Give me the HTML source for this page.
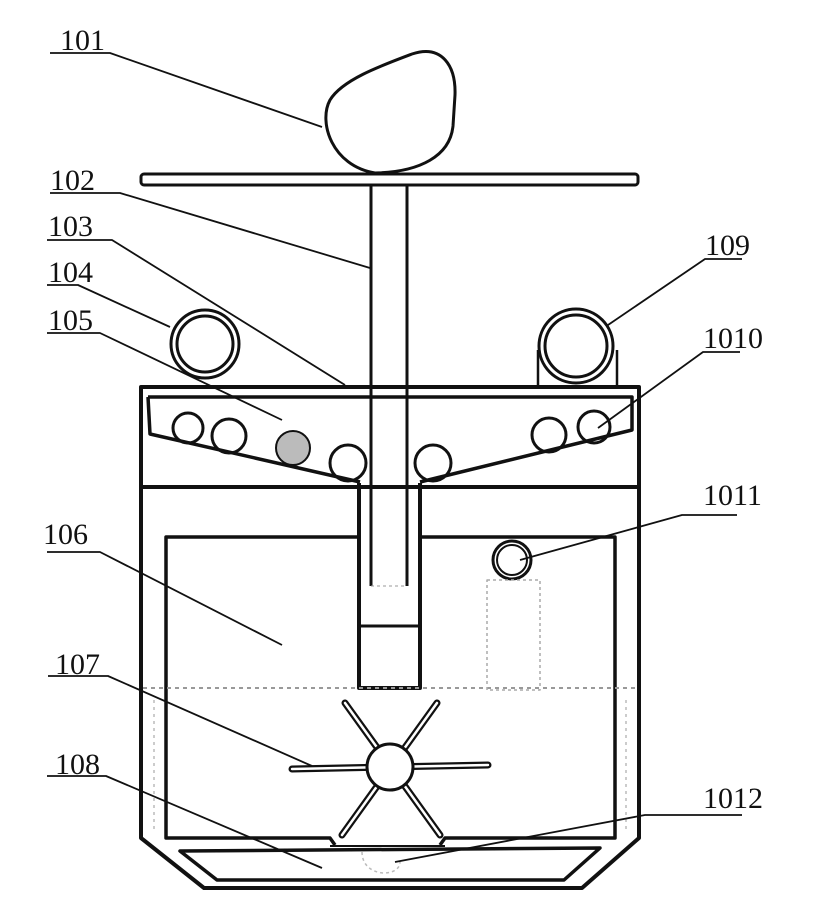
<!DOCTYPE html>
<html><head><meta charset="utf-8"><style>
html,body{margin:0;padding:0;background:#fff;}
svg{display:block;}
text{font-family:"Liberation Serif",serif;font-size:30px;fill:#111;}
</style></head><body>
<svg width="813" height="912" viewBox="0 0 813 912" xmlns="http://www.w3.org/2000/svg">
<g fill="none" stroke="#111" stroke-linejoin="round">
<path d="M375,173 C332,166 318,122 330,100 C342,80 380,66 412,54 C442,44 456,66 455,95 L453,126 C450,156 420,172 375,173 Z" stroke-width="3"/>
<rect x="141" y="174" width="497" height="11" rx="3" stroke-width="3"/>
<line x1="371" y1="185" x2="371" y2="586" stroke-width="3"/>
<line x1="407" y1="185" x2="407" y2="586" stroke-width="3"/>
<circle cx="205" cy="344" r="34" stroke-width="3"/>
<circle cx="205" cy="344" r="28" stroke-width="3"/>
<line x1="538" y1="350" x2="538" y2="387" stroke-width="2.5"/>
<line x1="617" y1="350" x2="617" y2="387" stroke-width="2.5"/>
<circle cx="576" cy="346" r="37" stroke-width="3" fill="#fff"/>
<circle cx="576" cy="346" r="31" stroke-width="3"/>
<path d="M141,387 L639,387 L639,838 L582,888 L204,888 L141,838 Z" stroke-width="4"/>
<path d="M148,397 L632,397 L632,430 L420,482 M360,482 L150,434 L148,397" stroke-width="3.5"/>
<line x1="141" y1="487" x2="639" y2="487" stroke-width="4"/>
<circle cx="188" cy="428" r="15" stroke-width="3"/>
<circle cx="229" cy="436" r="17" stroke-width="3"/>
<circle cx="293" cy="448" r="17" stroke-width="2" fill="#bbb"/>
<circle cx="348" cy="463" r="18" stroke-width="3"/>
<circle cx="433" cy="463" r="18" stroke-width="3"/>
<circle cx="549" cy="435" r="17" stroke-width="3"/>
<circle cx="594" cy="427" r="16" stroke-width="3"/>
<path d="M359,483 L359,688 L420,688 L420,483" stroke-width="4"/>
<line x1="359" y1="626" x2="420" y2="626" stroke-width="3"/>
<line x1="371" y1="586" x2="407" y2="586" stroke-width="1" stroke="#999" stroke-dasharray="3,3"/>
<path d="M357,537 L166,537 L166,838 L330,838 L335,845" stroke-width="3.5"/>
<path d="M422,537 L615,537 L615,838 L445,838 L440,845" stroke-width="3.5"/>
<line x1="143" y1="688" x2="637" y2="688" stroke="#999" stroke-width="2" stroke-dasharray="4,4"/>
<line x1="154" y1="700" x2="154" y2="830" stroke="#bbb" stroke-width="1.5" stroke-dasharray="3,4"/>
<line x1="626" y1="700" x2="626" y2="830" stroke="#bbb" stroke-width="1.5" stroke-dasharray="3,4"/>
<circle cx="512" cy="560" r="19" stroke-width="3"/>
<circle cx="512" cy="560" r="15" stroke-width="2"/>
<rect x="487" y="580" width="53" height="110" stroke="#aaa" stroke-width="1.5" stroke-dasharray="3,3"/>
<g stroke-width="7" stroke-linecap="round"><line x1="292" y1="769" x2="488" y2="765"/><line x1="345" y1="703" x2="440" y2="835"/><line x1="437" y1="703" x2="342" y2="835"/></g>
<g stroke="#fff" stroke-width="2.5" stroke-linecap="round"><line x1="292" y1="769" x2="488" y2="765"/><line x1="345" y1="703" x2="440" y2="835"/><line x1="437" y1="703" x2="342" y2="835"/></g>
<circle cx="390" cy="767" r="23" stroke-width="3" fill="#fff"/>
<path d="M180,851 L600,848 L564,880 L217,880 Z" stroke-width="3.5"/>
<line x1="330" y1="846" x2="445" y2="846" stroke-width="2"/>
<path d="M362,852 C362,878 400,878 400,862" stroke="#bbb" stroke-width="1.5" stroke-dasharray="3,3"/>
<g stroke-width="1.8">
<polyline points="50,53 110,53 322,127"/>
<polyline points="50,193 120,193 370,268"/>
<polyline points="47,240 112,240 345,385"/>
<polyline points="47,285 78,285 170,327"/>
<polyline points="47,333 100,333 282,420"/>
<polyline points="47,552 100,552 282,645"/>
<polyline points="48,676 108,676 312,766"/>
<polyline points="47,776 106,776 322,868"/>
<polyline points="742,259 705,259 608,325"/>
<polyline points="740,352 703,352 598,428"/>
<polyline points="737,515 682,515 520,560"/>
<polyline points="742,815 645,815 395,862"/>
</g>
</g>
<text x="60" y="50">101</text>
<text x="50" y="190">102</text>
<text x="48" y="236">103</text>
<text x="48" y="282">104</text>
<text x="48" y="330">105</text>
<text x="43" y="544">106</text>
<text x="55" y="674">107</text>
<text x="55" y="774">108</text>
<text x="705" y="255">109</text>
<text x="703" y="348">1010</text>
<text x="703" y="505">1011</text>
<text x="703" y="808">1012</text>
</svg>
</body></html>
